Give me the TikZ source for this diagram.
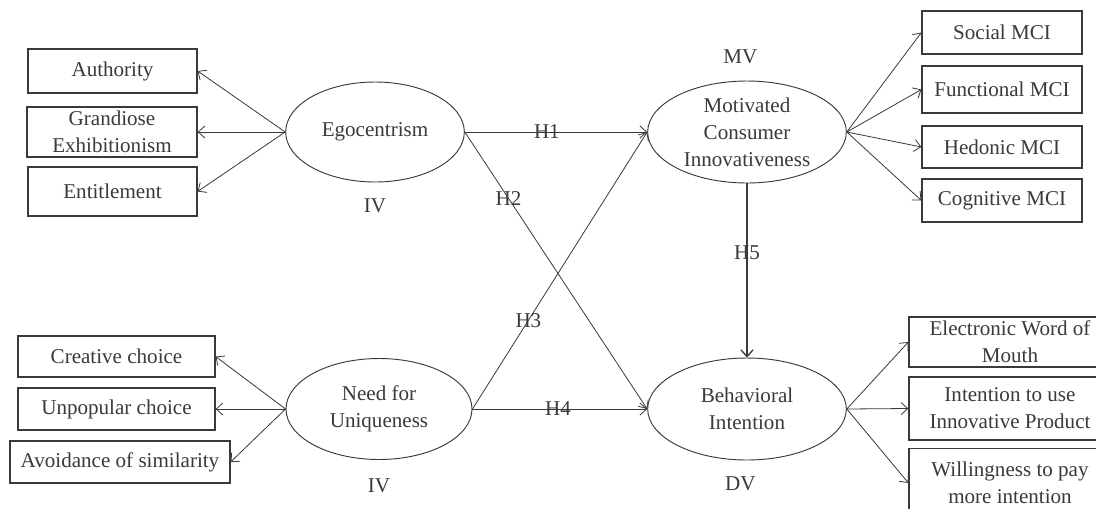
\documentclass[tikz,border=0pt]{standalone}
\usepackage{fontspec}
\setmainfont{Liberation Serif}
\usetikzlibrary{positioning,shapes.geometric,arrows.meta}
\definecolor{ink}{HTML}{3A3A3A}

\begin{document}
\begin{tikzpicture}[x=0.75pt,y=-0.75pt,font=\fontsize{15.8}{20.25}\selectfont,text=ink]
	% styles
	\tikzstyle{construct} = [ellipse, draw=ink, line width=0.7pt, inner sep=0pt, align=center]	% latent variable
	\tikzstyle{item} = [rectangle, draw=ink, line width=0.9pt, inner sep=0pt, align=center]	% dimension box
	\tikzstyle{tag} = [inner sep=0pt]	% IV / MV / DV
	\tikzstyle{hyp} = [inner sep=0pt]	% hypothesis label
	\tikzstyle{arrow} = [draw=ink, line width=0.6pt, -{Straight Barb[length=5pt,width=9pt]}]

	\fill[white] (0,0) rectangle (1096,508);
	\useasboundingbox (0,0) rectangle (1096,508);
	\clip (0,0) rectangle (1096,508);

	% constructs
	\node (ego) [construct, minimum width=134pt, minimum height=75pt] at (375,132) {Egocentrism};
	\node (nfu) [construct, minimum width=139.5pt, minimum height=75.75pt] at (379,409) {Need for\\Uniqueness};
	\node (mci) [construct, minimum width=149pt, minimum height=76.5pt] at (747,132) {Motivated\\Consumer\\Innovativeness};
	\node (bi) [construct, minimum width=149pt, minimum height=76.5pt] at (747,409) {Behavioral\\Intention};

	\node (iv1) [tag, below=12pt of ego] {IV};
	\node (iv2) [tag, below=14pt of nfu] {IV};
	\node (mv) [tag, above=12pt of mci, xshift=-5pt] {MV};
	\node (dv) [tag, below=12pt of bi, xshift=-5pt] {DV};

	% egocentrism dimensions
	\node (auth) [item, minimum width=126.75pt, minimum height=33pt] at (112.5,71) {Authority};
	\node (gran) [item, minimum width=127.5pt, minimum height=37.5pt] at (112,132) {Grandiose\\Exhibitionism};
	\node (enti) [item, minimum width=126.75pt, minimum height=36.75pt] at (112.5,191.5) {Entitlement};

	% uniqueness dimensions
	\node (crea) [item, minimum width=147.75pt, minimum height=30.75pt] at (116.5,356.5) {Creative choice};
	\node (unpo) [item, minimum width=147.75pt, minimum height=31.5pt] at (116.5,409) {Unpopular choice};
	\node (avoi) [item, minimum width=165pt, minimum height=31.5pt] at (120,462) {Avoidance of similarity};

	% MCI dimensions
	\node (soc) [item, minimum width=120pt, minimum height=32.25pt] at (1002,32.5) {Social MCI};
	\node (fun) [item, minimum width=120pt, minimum height=35.25pt] at (1002,89.5) {Functional MCI};
	\node (hed) [item, minimum width=120pt, minimum height=31.5pt] at (1002,147) {Hedonic MCI};
	\node (cog) [item, minimum width=120pt, minimum height=32.25pt] at (1002,200.5) {Cognitive MCI};

	% intention dimensions
	\node (ewom) [item, minimum width=151.5pt, minimum height=37.5pt] at (1010,342) {Electronic Word of\\Mouth};
	\node (use) [item, minimum width=151.5pt, minimum height=47.25pt] at (1010,408.5) {Intention to use\\Innovative Product};
	\node (pay) [item, minimum width=151.5pt, minimum height=51.75pt] at (1010,483) {Willingness to pay\\more intention};

	% measurement arrows
	\draw [arrow] (ego.west) -- (auth.east);
	\draw [arrow] (ego.west) -- (gran.east);
	\draw [arrow] (ego.west) -- (enti.east);
	\draw [arrow] (nfu.west) -- (crea.east);
	\draw [arrow] (nfu.west) -- (unpo.east);
	\draw [arrow] (nfu.west) -- (avoi.east);
	\draw [arrow] (mci.east) -- (soc.west);
	\draw [arrow] (mci.east) -- (fun.west);
	\draw [arrow] (mci.east) -- (hed.west);
	\draw [arrow] (mci.east) -- (cog.west);
	\draw [arrow] (bi.east) -- (ewom.west);
	\draw [arrow] (bi.east) -- (use.west);
	\draw [arrow] (bi.east) -- (pay.west);

	% hypotheses
	\draw [arrow] (ego.east) -- node[hyp, pos=0.45]{H1} (mci.west);
	\draw [arrow] (ego.east) -- node[hyp, pos=0.24]{H2} (bi.west);
	\draw [arrow] (nfu.east) -- node[hyp, pos=0.32]{H3} (mci.west);
	\draw [arrow] (nfu.east) -- node[hyp, pos=0.49]{H4} (bi.west);
	\draw [arrow, line width=1pt] (mci.south) -- node[hyp, pos=0.4]{H5} (bi.north);
\end{tikzpicture}
\end{document}
